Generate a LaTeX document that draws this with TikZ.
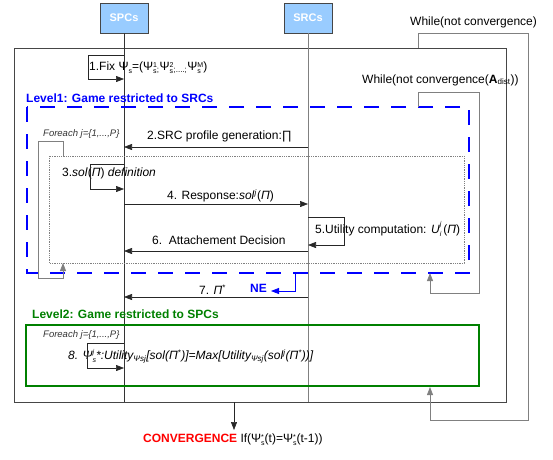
\documentclass[tikz,border=0pt]{standalone}
\usepackage{fontspec}
\setmainfont{Liberation Sans}
\usepackage{xcolor}
\usetikzlibrary{arrows.meta}

\definecolor{headfill}{RGB}{153,204,255}
\definecolor{levelblue}{RGB}{0,0,255}
\definecolor{levelgreen}{RGB}{0,128,0}
\definecolor{convred}{RGB}{255,0,0}
\definecolor{framegray}{RGB}{70,70,70}
\definecolor{loopgray}{RGB}{128,128,128}

% stacked sub/superscript after a letter
\newcommand\stk[2]{\raisebox{-0.45ex}{\fontsize{7}{6.5}\selectfont\shortstack[l]{#2\\#1}}}
\newcommand\Pss[2]{Ψ\stk{#1}{#2}}

\begin{document}
\begin{tikzpicture}[x=1pt,y=-1pt,>={Triangle[length=8pt,width=6pt]}]
\tikzstyle{every node}+=[inner sep=0pt]
\tikzstyle{head}=[draw=framegray,fill=headfill,minimum width=48pt,minimum height=30pt,text=white,font=\fontsize{11}{13}\selectfont\bfseries]
\tikzstyle{lbl}=[anchor=west,font=\fontsize{12}{14}\selectfont]
\tikzstyle{small}=[anchor=west,font=\fontsize{9.5}{11}\selectfont\itshape,text=black!80]
\tikzstyle{level}=[anchor=west,font=\fontsize{12}{14}\selectfont\bfseries]
\tikzstyle{life}=[draw=black!80,line width=0.6pt]
\tikzstyle{msg}=[draw=black!85,line width=0.6pt,->]
\tikzstyle{loopl}=[draw=loopgray,line width=0.8pt]
\useasboundingbox (0,0) rectangle (553,459);

% lifeline heads
\node[head] (spc) at (124,18) {SPCs};
\node[head] (src) at (308,18) {SRCs};

% outer frame
\coordinate (frtl) at (14,48);
\coordinate (frbr) at (506,402);
\draw[framegray,line width=0.8pt] (frtl) rectangle (frbr);

\draw[life] (spc) -- (spc |- frbr);
\draw[life,draw=loopgray] (src) -- (src |- frbr);

% outer while loop
\node[lbl] (while) at (410,22) {While(not convergence)};
\draw[loopl,->] (418,48) |- (528,33) |- (430,420) -- (430,387);

% 1
\node[lbl] (l1) at (89,68) {1.Fix \Pss{s}{}=(\Pss{s}{1}\textsubscript{;}\Pss{s}{2}\textsubscript{;....;}\Pss{s}{M})};
\coordinate (a1) at (0,55);
\coordinate (b1) at (0,79);
\draw[msg] (spc |- a1) -| (88,79) -- (spc |- b1);

% level 1
\node[level,text=levelblue] (lev1) at (26,98) {Level1: Game restricted to SRCs};
\draw[levelblue,line width=2.6pt,dash pattern=on 15pt off 12pt] (27,107) rectangle (469,273);
\node[lbl] (whilein) at (362,80) {While(not convergence(\textbf{A}\textsubscript{dist}))};
\draw[loopl,->] (418,107) |- (479,92) |- (430,293) -- (430,273);

% foreach loop
\node[small] (fe1) at (43,134) {Foreach j=\{1,...,P\}};
\draw[loopl,densely dotted,line width=0.6pt] (49,156) rectangle (464,263);
\draw[loopl,->] (63,156) |- (38,141) |- (63,278) -- (63,263);

% 2
\node[lbl] (l2) at (147,136) {2.SRC profile generation:∏};
\coordinate (m2) at (0,147);
\draw[msg] (src |- m2) -- (spc |- m2);

% 3
\node[lbl] (l3) at (62,173) {3.\textit{sol}(\textit{Π}) \textit{definition}};
\coordinate (a3) at (0,164);
\coordinate (b3) at (0,189);
\draw[msg] (spc |- a3) -| (90,189) -- (spc |- b3);

% 4
\node[lbl] (l4) at (167,196) {4. Response:\textit{sol}\textsuperscript{\textit{j}}(\textit{Π})};
\coordinate (m4) at (0,204);
\draw[msg] (spc |- m4) -- (src |- m4);

% 5
\node[lbl] (l5) at (315,229) {5.Utility computation: \textit{U}\stk{\textit{i}}{\textit{j}}\,(\textit{Π})};
\coordinate (a5) at (0,217);
\coordinate (b5) at (0,245);
\draw[msg] (src |- a5) -| (344,245) -- (src |- b5);

% 6
\node[lbl] (l6) at (152,240) {6.\ \ Attachement Decision};
\coordinate (m6) at (0,251);
\draw[msg] (src |- m6) -- (spc |- m6);

% 7
\node[lbl] (l7) at (199,290) {7. \textit{Π}\textsuperscript{*}};
\node[level,text=levelblue] (ne) at (250,288) {NE};
\coordinate (m7) at (0,297);
\draw[msg] (src |- m7) -- (spc |- m7);
\coordinate (neend) at (271,291);
\draw[levelblue,line width=0.8pt,->] (295,273) |- (neend);

% level 2
\node[level,text=levelgreen] (lev2) at (32,314) {Level2: Game restricted to SPCs};
\draw[levelgreen,line width=2.6pt] (26,325) rectangle (479,386);
\node[small] (fe2) at (43,335) {Foreach j=\{1,...,P\}};

% 8
\node[lbl] (l8) at (68,356) {\textit{8. Ψ\stk{s}{j}*:Utility\textsubscript{Ψsj}[sol(Π\textsuperscript{*})]=Max[Utility\textsubscript{Ψsj}(sol\textsuperscript{j}(Π\textsuperscript{*}))]}};
\coordinate (a8) at (0,343);
\coordinate (b8) at (0,368);
\draw[msg] (spc |- a8) -| (87,368) -- (spc |- b8);

% convergence
\node[lbl] (conv) at (143,440) {\textcolor{convred}{\textbf{CONVERGENCE}} If(\Pss{s}{*}(t)=\Pss{s}{*}(t-1))};
\draw[msg] (234,402) -- (234,430);
\end{tikzpicture}
\end{document}
